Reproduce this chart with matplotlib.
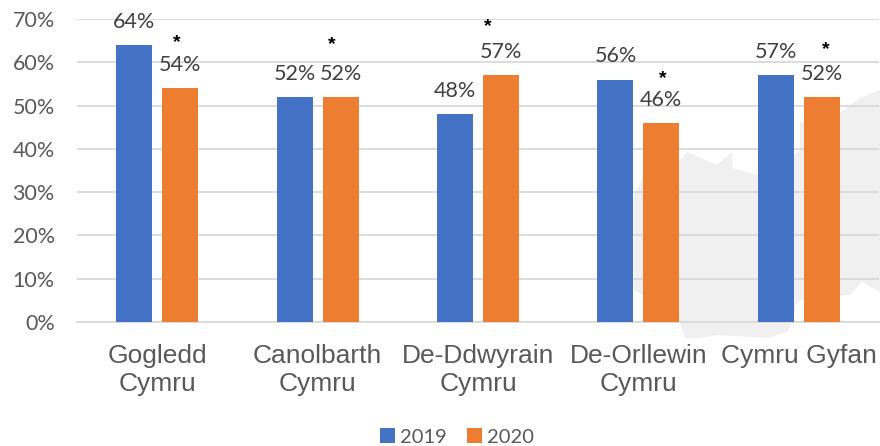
import matplotlib
matplotlib.use("Agg")
import matplotlib.pyplot as plt
from matplotlib.patches import Polygon

categories = ["Gogledd\nCymru", "Canolbarth\nCymru", "De-Ddwyrain\nCymru", "De-Orllewin\nCymru", "Cymru Gyfan"]
values_2019 = [64, 52, 48, 56, 57]
values_2020 = [54, 52, 57, 46, 52]
y_ticks = [0, 10, 20, 30, 40, 50, 60, 70]
star_x = [0.12, 1.09, 2.06, 3.155, 4.17]
star_y = [64.6, 64.2, 68.3, 56.2, 63.0]

BLUE, ORANGE = "#4472C4", "#ED7D31"
W, H = 880, 446
fig = plt.figure(figsize=(W / 100, H / 100), dpi=100)
x0, x1, y0, y1 = 77, 879, 322, 19
ax = fig.add_axes([x0 / W, 1 - y0 / H, (x1 - x0) / W, (y0 - y1) / H])

# pale map silhouette behind the plot
map_px = [(880, 90), (860, 98), (853, 103), (840, 113), (815, 125), (800, 122), (800, 150), (775, 172), (757, 175),
          (733, 168), (732, 152), (717, 165), (687, 152), (680, 160), (644, 175), (634, 195), (634, 290), (644, 296),
          (680, 322), (688, 313), (710, 315), (692, 303), (680, 303), (680, 323), (685, 338), (700, 338), (717, 335),
          (767, 338), (787, 332), (793, 322), (795, 305), (805, 298), (850, 295), (862, 282), (880, 292)]
bg = Polygon([(x / W, 1 - y / H) for x, y in map_px], closed=True, transform=fig.transFigure,
             facecolor="#F0F0F0", edgecolor="none", zorder=-5)
fig.patches.append(bg)
ax.patch.set_alpha(0)

xs = list(range(len(categories)))
bw, off = 0.224, 0.143
b1 = ax.bar([x - off for x in xs], values_2019, bw, color=BLUE, label="2019", zorder=3)
b2 = ax.bar([x + off for x in xs], values_2020, bw, color=ORANGE, label="2020", zorder=3)

ax.set_xlim(-0.5, 4.5)
ax.set_ylim(0, 70)
ax.set_yticks(y_ticks)
ax.set_yticklabels([f"{v}%" for v in y_ticks], fontsize=15.5, color="#595959", family="Lato")
ax.set_xticks(xs)
ax.set_xticklabels(categories, fontsize=19, color="#595959", family="Liberation Sans", linespacing=1.22)
ax.tick_params(axis="both", length=0)
ax.tick_params(axis="y", pad=16)
ax.tick_params(axis="x", pad=16)
ax.grid(axis="y", color="#D9D9D9", linewidth=1.3, zorder=1)
ax.set_axisbelow(True)
for s in ("top", "right", "left"):
    ax.spines[s].set_visible(False)
ax.spines["bottom"].set_color("#D9D9D9")
ax.spines["bottom"].set_linewidth(1.3)

for bars, vals in ((b1, values_2019), (b2, values_2020)):
    for r, v in zip(bars, vals):
        ax.annotate(f"{v}%", (r.get_x() + r.get_width() / 2, v), xytext=(0, 9.5), textcoords="offset points",
                    ha="center", va="bottom", fontsize=15.5, color="#404040", family="Lato",
                    annotation_clip=False, zorder=5)
for x, y in zip(star_x, star_y):
    ax.text(x, y, "*", ha="center", va="center", fontsize=14, fontweight="bold", color="black",
            family="Liberation Sans", zorder=6, clip_on=False)

leg = fig.legend(handles=[b1, b2], loc="center", bbox_to_anchor=(457 / W, 1 - 437 / H), ncol=2, frameon=False,
                 handlelength=0.75, handleheight=0.75, handletextpad=0.25, columnspacing=1.0,
                 prop={"family": "Lato", "size": 14.5}, labelcolor="#595959", borderpad=0)
fig.savefig("out.png", dpi=100)
